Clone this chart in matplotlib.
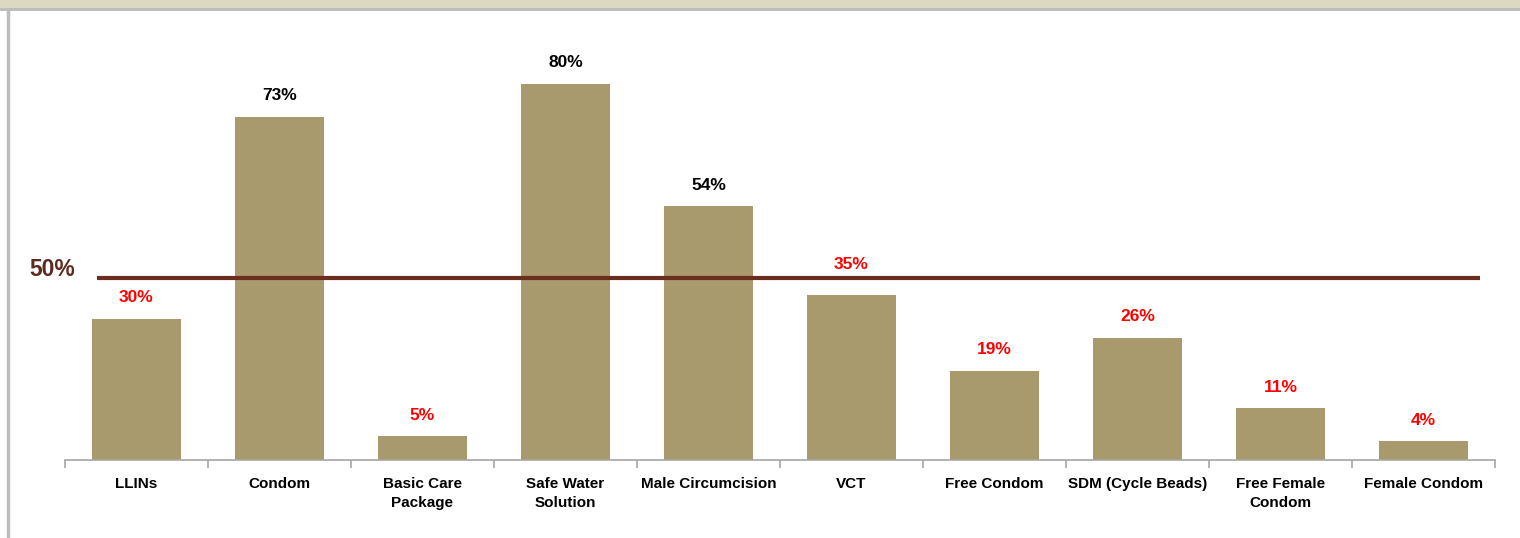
import matplotlib
matplotlib.use("Agg")
import matplotlib.pyplot as plt
from matplotlib.patches import Rectangle
from matplotlib.lines import Line2D

categories = ["LLINs", "Condom", "Basic Care\nPackage", "Safe Water\nSolution",
              "Male Circumcision", "VCT", "Free Condom", "SDM (Cycle Beads)",
              "Free Female\nCondom", "Female Condom"]
values = [30, 73, 5, 80, 54, 35, 19, 26, 11, 4]
threshold_label = "50%"
threshold_pos = 38.7

plt.rcParams['font.family'] = ['Liberation Sans Narrow', 'Liberation Sans', 'DejaVu Sans']

W, H = 1520, 538
fig = plt.figure(figsize=(W / 100, H / 100), dpi=100)

# frame decorations
fig.patches.append(Rectangle((0, 1 - 8 / H), 1, 8 / H, transform=fig.transFigure,
                             facecolor="#DDD8C0", edgecolor="none"))
fig.patches.append(Rectangle((0, 1 - 11 / H), 1, 3 / H, transform=fig.transFigure,
                             facecolor="#BDBDBD", edgecolor="none"))
fig.lines.append(Line2D([7.5 / W, 7.5 / W], [0, 1 - 11 / H], transform=fig.transFigure,
                        color="#BDBDBD", lw=2.5))

ax = fig.add_axes([65 / W, 1 - 460 / H, 1430 / W, 450 / H])
x = list(range(len(categories)))
ax.bar(x, values, width=0.62, color="#A99A6E", zorder=2)
ax.set_xlim(-0.5, len(categories) - 0.5)
ax.set_ylim(0, 95.7)

for s in ["top", "right", "left"]:
    ax.spines[s].set_visible(False)
ax.spines["bottom"].set_color("#A6A6A6")
ax.spines["bottom"].set_linewidth(1.2)
ax.set_yticks([])
ax.set_xticks(x)
ax.set_xticklabels(categories, fontsize=11, fontweight="bold", linespacing=1.5)
ax.tick_params(axis="x", length=0, pad=12)
ax.set_xticks([i - 0.5 for i in range(len(categories) + 1)], minor=True)
ax.tick_params(axis="x", which="minor", length=6, color="#A6A6A6", width=1.2)

for i, v in enumerate(values):
    col = "black" if v >= 50 else "#FF0000"
    off = 31 if abs(v - threshold_pos) < 6 else 21
    ax.annotate(f"{v}%", (i, v), xytext=(0, off), textcoords="offset pixels",
                ha="center", va="center", fontsize=12.5, fontweight="bold", color=col,
                zorder=4)

ax.plot([-0.276, 9.395], [threshold_pos, threshold_pos], color="#6B2D1E", lw=3,
        zorder=3, solid_capstyle="butt", clip_on=False)
ax.text(-0.59, threshold_pos + 1.8, threshold_label, transform=ax.transData,
        ha="center", va="center", fontsize=16.5, fontweight="bold", color="#5E2A1E")

fig.savefig("out.png", dpi=100)
